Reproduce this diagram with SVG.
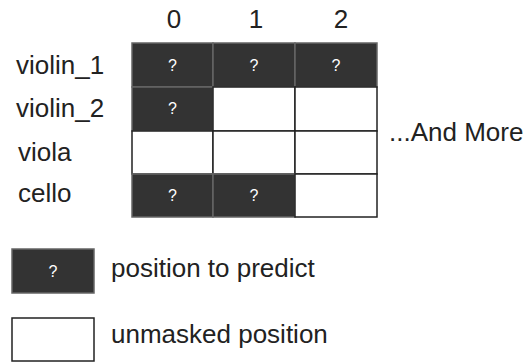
<svg xmlns="http://www.w3.org/2000/svg" width="532" height="363" viewBox="0 0 532 363">
  <style>
    text { font-family: "Liberation Sans", Arial, sans-serif; fill: #222; }
    .lbl { font-size: 26px; }
    .q { font-size: 16px; fill: #fff; text-anchor: middle; }
    .mask { fill: #333; stroke: #666; stroke-width: 1.5; }
    .open { fill: #fff; stroke: #222; stroke-width: 1.5; }
  </style>
  <rect width="532" height="363" fill="#fff"/>

  <!-- column headers -->
  <g id="headers">
    <text class="lbl" x="174" y="28" text-anchor="middle">0</text>
    <text class="lbl" x="256" y="28" text-anchor="middle">1</text>
    <text class="lbl" x="341" y="28" text-anchor="middle">2</text>
  </g>

  <!-- row labels -->
  <g id="rows">
    <text class="lbl" x="16" y="74">violin_1</text>
    <text class="lbl" x="16" y="117">violin_2</text>
    <text class="lbl" x="18" y="161">viola</text>
    <text class="lbl" x="18" y="202">cello</text>
  </g>

  <!-- grid cells -->
  <g id="grid">
    <g id="r0c0"><rect class="mask" x="132" y="43" width="81" height="44"/><text class="q" x="172.5" y="71">?</text></g>
    <g id="r0c1"><rect class="mask" x="213" y="43" width="82" height="44"/><text class="q" x="254" y="71">?</text></g>
    <g id="r0c2"><rect class="mask" x="295" y="43" width="82" height="44"/><text class="q" x="336" y="71">?</text></g>

    <g id="r1c0"><rect class="mask" x="132" y="87" width="81" height="44"/><text class="q" x="172.5" y="114">?</text></g>
    <g id="r1c1"><rect class="open" x="213" y="87" width="82" height="44"/></g>
    <g id="r1c2"><rect class="open" x="295" y="87" width="82" height="44"/></g>

    <g id="r2c0"><rect class="open" x="132" y="131" width="81" height="43"/></g>
    <g id="r2c1"><rect class="open" x="213" y="131" width="82" height="43"/></g>
    <g id="r2c2"><rect class="open" x="295" y="131" width="82" height="43"/></g>

    <g id="r3c0"><rect class="mask" x="132" y="174" width="81" height="43"/><text class="q" x="172.5" y="201">?</text></g>
    <g id="r3c1"><rect class="mask" x="213" y="174" width="82" height="43"/><text class="q" x="254" y="201">?</text></g>
    <g id="r3c2"><rect class="open" x="295" y="174" width="82" height="43"/></g>
  </g>

  <g id="more">
    <text class="lbl" x="389" y="141">...And More</text>
  </g>

  <!-- legend -->
  <g id="legend-mask">
    <rect class="mask" x="12" y="249" width="82" height="44"/>
    <text class="q" x="53" y="277">?</text>
    <text class="lbl" x="111" y="277">position to predict</text>
  </g>
  <g id="legend-open">
    <rect class="open" x="12" y="318" width="82" height="43"/>
    <text class="lbl" x="111" y="343">unmasked position</text>
  </g>
</svg>
